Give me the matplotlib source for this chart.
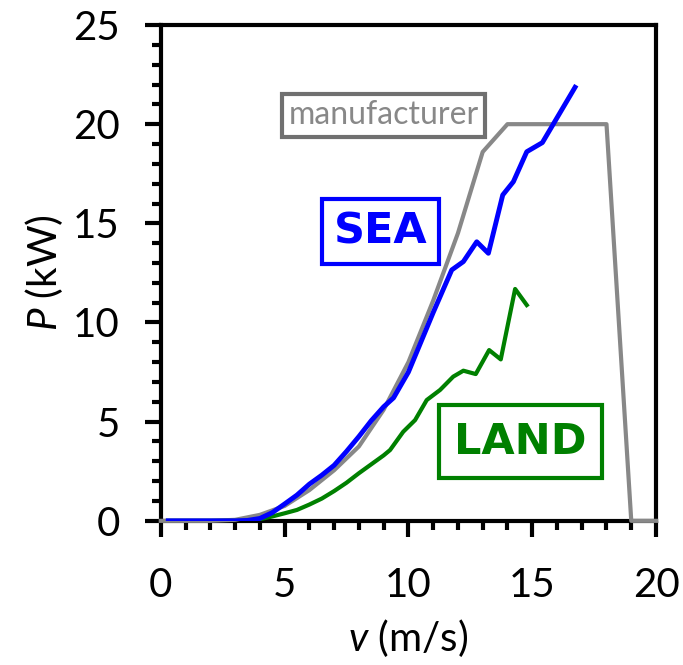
import matplotlib
matplotlib.use("Agg")
import matplotlib.pyplot as plt
from matplotlib.ticker import MultipleLocator

plt.rcParams["font.family"] = ["Lato", "DejaVu Sans"]
plt.rcParams["mathtext.fontset"] = "custom"
plt.rcParams["mathtext.it"] = "Lato:italic"
plt.rcParams["mathtext.rm"] = "Lato"

# manufacturer power curve
v_man = [0, 1, 2, 3, 4, 5, 6, 7, 8, 9, 10, 11, 12, 13, 14, 15, 16, 17, 18, 19, 20]
p_man = [0, 0, 0, 0.05, 0.3, 0.75, 1.55, 2.55, 3.75, 5.6, 8.0, 11.1, 14.5, 18.6,
         20.0, 20.0, 20.0, 20.0, 20.0, 0, 0]

# measured at sea
v_sea = [0.3, 1, 1.5, 2, 2.5, 3, 3.5, 4, 4.5, 5, 5.5, 6, 6.5, 7, 7.5, 8, 8.5, 9,
         9.4, 10, 10.5, 11, 11.75, 12.22, 12.76, 13.23, 13.81, 14.24, 14.78,
         15.41, 16.73]
p_sea = [0, 0, 0, 0, 0, 0, 0.02, 0.12, 0.41, 0.85, 1.3, 1.85, 2.3, 2.8, 3.5,
         4.25, 5.05, 5.75, 6.2, 7.5, 9.0, 10.5, 12.65, 13.07, 14.07, 13.49,
         16.43, 17.1, 18.61, 19.07, 21.86]

# measured on land
v_land = [0.3, 1, 1.5, 2, 2.5, 3, 3.5, 4, 4.5, 5, 5.5, 6, 6.5, 7, 7.5, 8, 8.5,
          9, 9.26, 9.79, 10.27, 10.74, 11.28, 11.81, 12.22, 12.72, 13.26,
          13.73, 14.31, 14.78]
p_land = [0, 0, 0, 0, 0, 0, 0.01, 0.08, 0.22, 0.38, 0.55, 0.82, 1.12, 1.5,
          1.92, 2.4, 2.85, 3.3, 3.57, 4.49, 5.08, 6.09, 6.6, 7.27, 7.57, 7.4,
          8.61, 8.14, 11.69, 10.88]

fig = plt.figure(figsize=(6.83, 6.65), dpi=100)
ax = fig.add_axes([0.2354, 0.2168, 0.7251, 0.7456])

ax.plot(v_man, p_man, color="#888888", lw=3, clip_on=False, zorder=3)
ax.plot(v_land, p_land, color="#008000", lw=3, zorder=4)
ax.plot(v_sea, p_sea, color="#0000ff", lw=3.5, zorder=5)

ax.text(9.0, 20.44, "manufacturer", color="#888888", fontsize=23,
        ha="center", va="center",
        bbox=dict(boxstyle="square,pad=0.2", fc="white", ec="#707070", lw=3))
ax.text(8.87, 14.58, "SEA", color="#0000ff", fontsize=31, fontweight="bold",
        family="DejaVu Sans", ha="center", va="center",
        bbox=dict(boxstyle="square,pad=0.27", fc="white", ec="#0000ff", lw=3))
ax.text(14.53, 3.98, "LAND", color="#008000", fontsize=31, fontweight="bold",
        family="DejaVu Sans", ha="center", va="center",
        bbox=dict(boxstyle="square,pad=0.36", fc="white", ec="#008000", lw=3))

ax.set_xlim(0, 20)
ax.set_ylim(0, 25)
ax.xaxis.set_major_locator(MultipleLocator(5))
ax.xaxis.set_minor_locator(MultipleLocator(1))
ax.yaxis.set_major_locator(MultipleLocator(5))
ax.yaxis.set_minor_locator(MultipleLocator(1))

for s in ax.spines.values():
    s.set_linewidth(3)
ax.tick_params(which="major", direction="out", length=11.5, width=3,
               labelsize=29)
ax.tick_params(which="minor", direction="out", length=6.5, width=3)
ax.tick_params(axis="x", which="major", pad=22)
ax.tick_params(axis="y", which="major", pad=18)

ax.set_xlabel("$v$ (m/s)", fontsize=29, labelpad=9)
ax.set_ylabel("$P$ (kW)", fontsize=29, labelpad=6)

fig.savefig("out.png", dpi=100)
